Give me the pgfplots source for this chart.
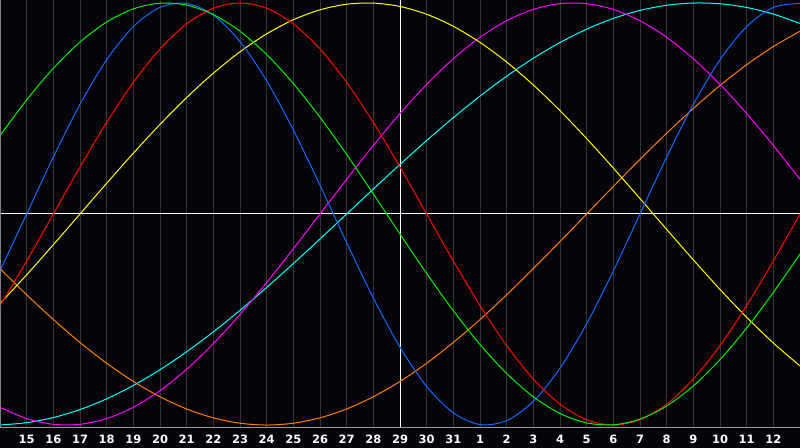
\documentclass[border=0pt]{standalone}
\usepackage{fontspec}
\setmainfont{DejaVu Sans}
\usepackage{pgfplots}
\usepackage{pgfplotstable}
\pgfplotsset{compat=1.18}

\definecolor{bg}{RGB}{5,4,8}
\definecolor{gridgray}{RGB}{52,52,54}
\definecolor{edgegray}{RGB}{128,128,128}
\definecolor{physical}{RGB}{16,104,255}
\definecolor{emotional}{RGB}{255,0,0}
\definecolor{intellectual}{RGB}{0,240,0}
\definecolor{intuitive}{RGB}{255,0,255}
\definecolor{aesthetic}{RGB}{255,255,0}
\definecolor{awareness}{RGB}{255,128,0}
\definecolor{spiritual}{RGB}{0,255,255}

% day index 0..30 (index 1 = 15th, index 15 = 29th, index 29 = 12th)
\pgfplotstableread{
x  phys     emot     intel    intu     aest     awar     spir
0  -0.2698  -0.4339   0.3717  -0.9158  -0.4244  -0.2588  -0.9996
1   0.0000  -0.2225   0.5406  -0.9694  -0.2881  -0.3827  -0.9890
2   0.2698   0.0000   0.6901  -0.9966  -0.1456  -0.5000  -0.9646
3   0.5196   0.2225   0.8146  -0.9966   0.0000  -0.6088  -0.9267
4   0.7308   0.4339   0.9096  -0.9694   0.1456  -0.7071  -0.8758
5   0.8879   0.6235   0.9718  -0.9158   0.2881  -0.7934  -0.8125
6   0.9791   0.7818   0.9989  -0.8372   0.4244  -0.8660  -0.7378
7   0.9977   0.9010   0.9898  -0.7357   0.5517  -0.9239  -0.6528
8   0.9423   0.9749   0.9450  -0.6142   0.6672  -0.9659  -0.5586
9   0.8170   1.0000   0.8660  -0.4759   0.7685  -0.9914  -0.4566
10  0.6311   0.9749   0.7557  -0.3247   0.8535  -1.0000  -0.3482
11  0.3984   0.9010   0.6182  -0.1646   0.9203  -0.9914  -0.2349
12  0.1362   0.7818   0.4582   0.0000   0.9674  -0.9659  -0.1183
13 -0.1362   0.6235   0.2817   0.1646   0.9940  -0.9239   0.0000
14 -0.3984   0.4339   0.0951   0.3247   0.9993  -0.8660   0.1183
15 -0.6311   0.2225  -0.0951   0.4759   0.9834  -0.7934   0.2349
16 -0.8170   0.0000  -0.2817   0.6142   0.9464  -0.7071   0.3482
17 -0.9423  -0.2225  -0.4582   0.7357   0.8893  -0.6088   0.4566
18 -0.9977  -0.4339  -0.6182   0.8372   0.8133  -0.5000   0.5586
19 -0.9791  -0.6235  -0.7557   0.9158   0.7199  -0.3827   0.6528
20 -0.8879  -0.7818  -0.8660   0.9694   0.6112  -0.2588   0.7378
21 -0.7308  -0.9010  -0.9450   0.9966   0.4894  -0.1305   0.8125
22 -0.5196  -0.9749  -0.9898   0.9966   0.3573   0.0000   0.8758
23 -0.2698  -1.0000  -0.9989   0.9694   0.2174   0.1305   0.9267
24  0.0000  -0.9749  -0.9718   0.9158   0.0730   0.2588   0.9646
25  0.2698  -0.9010  -0.9096   0.8372  -0.0730   0.3827   0.9890
26  0.5196  -0.7818  -0.8146   0.7357  -0.2174   0.5000   0.9996
27  0.7308  -0.6235  -0.6901   0.6142  -0.3573   0.6088   0.9961
28  0.8879  -0.4339  -0.5406   0.4759  -0.4894   0.7071   0.9786
29  0.9791  -0.2225  -0.3717   0.3247  -0.6112   0.7934   0.9473
30  0.9977   0.0000  -0.1893   0.1646  -0.7199   0.8660   0.9028
}\biodata

\begin{document}
\begin{tikzpicture}
\useasboundingbox (0,-15pt) rectangle (600pt,321pt);
\fill[bg] (0,-15pt) rectangle (600pt,321pt);
\begin{axis}[
    at={(0,0)}, anchor=south west,
    scale only axis,
    width=600pt, height=321pt,
    xmin=0, xmax=30,
    ymin=-1.014, ymax=1.014,
    axis line style={draw=none},
    xtick={1,...,29},
    xticklabels={15,16,17,18,19,20,21,22,23,24,25,26,27,28,29,30,31,1,2,3,4,5,6,7,8,9,10,11,12},
    ytick=\empty,
    major tick length=0pt,
    xmajorgrids,
    major grid style={color=gridgray, line width=0.75pt},
    xticklabel style={font=\bfseries\fontsize{8.6}{9}\selectfont, text=white,
        anchor=center, yshift=-8.4pt},
    every axis plot/.append style={line width=0.75pt, smooth, no markers},
]
\draw[white, line width=0.75pt] (rel axis cs:0,0.5) -- (rel axis cs:1,0.5);
\draw[white, line width=0.75pt] (rel axis cs:0.5,0) -- (rel axis cs:0.5,1);
\addplot[awareness]    table[x=x, y=awar]  {\biodata};
\addplot[spiritual]    table[x=x, y=spir]  {\biodata};
\addplot[intuitive]    table[x=x, y=intu]  {\biodata};
\addplot[aesthetic]    table[x=x, y=aest]  {\biodata};
\addplot[physical]     table[x=x, y=phys]  {\biodata};
\addplot[emotional]    table[x=x, y=emot]  {\biodata};
\addplot[intellectual] table[x=x, y=intel] {\biodata};
\draw[edgegray, line width=0.75pt] (rel axis cs:0,0) -- (rel axis cs:0,1) -- (rel axis cs:1,1);
\draw[edgegray!80!white, line width=0.75pt] (rel axis cs:0,0) -- (rel axis cs:1,0);
\end{axis}
\end{tikzpicture}
\end{document}
